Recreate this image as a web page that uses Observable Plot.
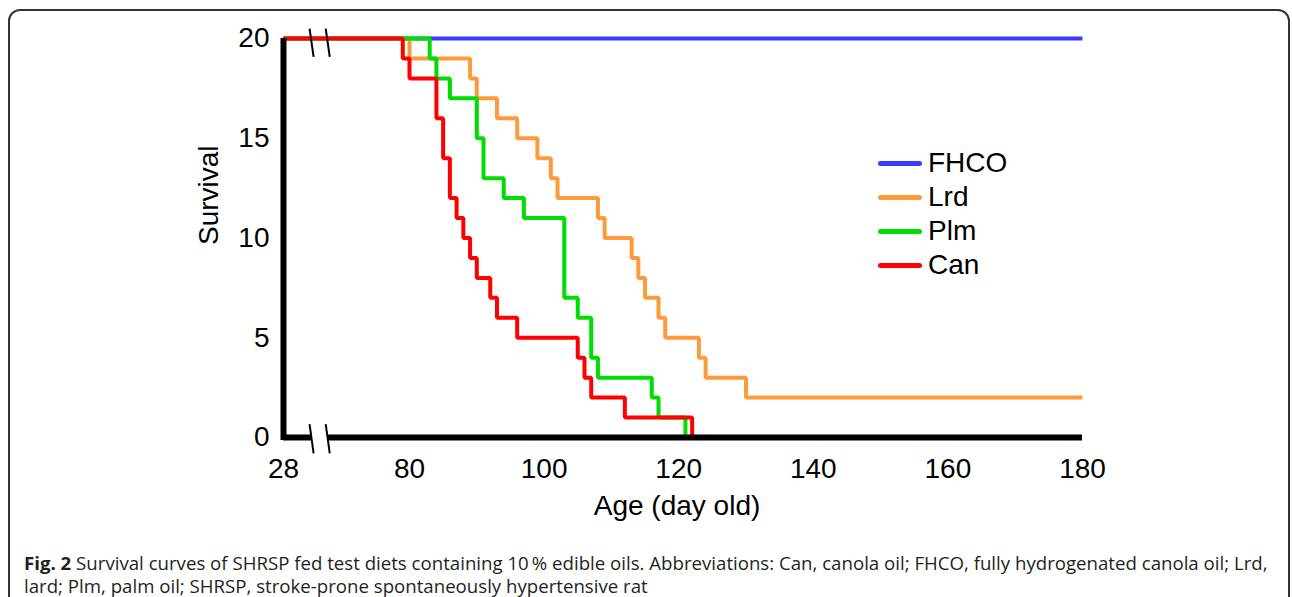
<!DOCTYPE html>
<html><head><meta charset="utf-8">
<script src="https://cdn.jsdelivr.net/npm/d3@7"></script>
<script src="https://cdn.jsdelivr.net/npm/@observablehq/plot@0.6"></script>
<style>
html,body{margin:0;padding:0;background:#fff;overflow:hidden;}
#wrap{position:relative;width:1292px;height:597px;overflow:hidden;}
#box{position:absolute;left:8px;top:9px;width:1282px;height:600px;border:2px solid #333;border-radius:12px;box-sizing:border-box;}
#chart{position:absolute;left:0;top:0;}
#legend{position:absolute;left:878px;top:146px;font-family:"Liberation Sans",Arial,sans-serif;font-size:28px;color:#000;}
.row{display:flex;align-items:center;height:34px;}
.sw{width:44px;height:5px;border-radius:3px;margin-right:6px;}
#caption{position:absolute;left:24px;top:551px;font-family:"Open Sans",sans-serif;font-size:16px;line-height:23px;color:#231f20;white-space:nowrap;}
#caption div{white-space:nowrap;}
</style></head>
<body>
<div id="wrap">
  <div id="box"></div>
  <div id="chart"></div>
  <div id="legend"></div>
  <div id="caption">
    <div id="cap1"><b>Fig. 2</b> Survival curves of SHRSP fed test diets containing 10&#8201;% edible oils. Abbreviations: Can, canola oil; FHCO, fully hydrogenated canola oil; Lrd,</div>
    <div id="cap2">lard; Plm, palm oil; SHRSP, stroke-prone spontaneously hypertensive rat</div>
  </div>
</div>
<script>
// ---- data ----
const seriesNames = ["FHCO", "Lrd", "Plm", "Can"];
const seriesColors = ["#3a3aff", "#ff9a3c", "#00dd00", "#ff0000"];

const fhcoDays = [28, 180];
const fhcoSurv = [20, 20];

const lrdDays = [28, 80, 89, 90, 93, 96, 99, 101, 102, 108, 109, 113, 114, 115, 117, 118, 123, 124, 130, 180];
const lrdSurv = [20, 19, 18, 17, 16, 15, 14, 13, 12, 11, 10, 9, 8, 7, 6, 5, 4, 3, 2, 2];

const plmDays = [28, 83, 84, 86, 90, 91, 94, 97, 103, 105, 107, 108, 116, 117, 121];
const plmSurv = [20, 19, 18, 17, 15, 13, 12, 11, 7, 6, 4, 3, 2, 1, 0];

const canDays = [28, 79, 80, 84, 85, 86, 87, 88, 89, 90, 92, 93, 96, 105, 106, 107, 112, 122];
const canSurv = [20, 19, 18, 16, 14, 12, 11, 10, 9, 8, 7, 6, 5, 4, 3, 2, 1, 0];

const xTicks = [28, 80, 100, 120, 140, 160, 180];
const yTicks = [0, 5, 10, 15, 20];

// ---- table ----
const seriesData = [[fhcoDays, fhcoSurv], [lrdDays, lrdSurv], [plmDays, plmSurv], [canDays, canSurv]];
const rows = [];
seriesData.forEach(([days, surv], i) => {
  days.forEach((d, j) => rows.push({series: seriesNames[i], day: d, surv: surv[j]}));
});

// ---- layout (broken x axis: days 28..64 compressed) ----
const X0 = 283, X80 = 409, X180 = 1082;
const ppd = (X180 - X80) / 100;
const tLeft = 80 - (X80 - X0) / ppd;   // linear-space value at the y axis
const xBreak = 64;
const compress = d => d >= xBreak ? d : tLeft + (d - 28) * (xBreak - tLeft) / (xBreak - 28);
const tickPos = xTicks.map(compress);
const brk1 = 65.45, brk2 = 67.85;
const axisSegs = [{a: 28, b: brk1}, {a: brk2, b: 180}];
const breakMarks = [
  {x: brk1, y: 20, up: 0.5, down: 0.92}, {x: brk2, y: 20, up: 0.5, down: 0.92},
  {x: brk1, y: 0, up: 0.67, down: 0.8}, {x: brk2, y: 0, up: 0.67, down: 0.8}
];

const chart = Plot.plot({
  width: 1292, height: 540,
  marginLeft: X0, marginRight: 1292 - X180, marginTop: 38, marginBottom: 103,
  style: {fontFamily: "Liberation Sans, Arial, sans-serif", color: "#000", background: "transparent"},
  x: {transform: compress, domain: [tLeft, 180]},
  y: {domain: [0, 20]},
  color: {domain: seriesNames, range: seriesColors},
  marks: [
    Plot.line(rows, {x: "day", y: "surv", z: "series", stroke: "series", curve: "step-after",
      strokeWidth: 4, strokeLinejoin: "miter", strokeLinecap: "butt"}),
    Plot.ruleX([28], {y1: -0.15, y2: 20, stroke: "#000", strokeWidth: 6}),
    Plot.ruleY(axisSegs, {x1: "a", x2: "b", y: 0, stroke: "#000", strokeWidth: 6}),
    Plot.link(breakMarks, {x1: d => d.x - 0.3, y1: d => d.y + d.up, x2: d => d.x + 0.3, y2: d => d.y - d.down,
      stroke: "#000", strokeWidth: 2}),
    Plot.axisX({ticks: tickPos, tickFormat: v => String(xTicks[tickPos.indexOf(v)]),
      tickSize: 0, tickPadding: 21, fontSize: 28, label: null}),
    Plot.axisY({ticks: yTicks, tickSize: 0, tickPadding: 14, fontSize: 28, label: null}),
    Plot.text(["Survival"], {frameAnchor: "left", rotate: -90, dx: -74, dy: 7, fontSize: 28}),
    Plot.text(["Age (day old)"], {frameAnchor: "bottom", dx: -6, dy: 77, fontSize: 28})
  ]
});
document.getElementById("chart").appendChild(chart);

// legend
const legend = document.getElementById("legend");
seriesNames.forEach((n, i) => {
  const r = document.createElement("div"); r.className = "row";
  const s = document.createElement("span"); s.className = "sw"; s.style.background = seriesColors[i];
  const t = document.createElement("span"); t.textContent = n;
  r.appendChild(s); r.appendChild(t); legend.appendChild(r);
});

// fit caption width
const cap1 = document.getElementById("cap1");
const cap = document.getElementById("caption");
const w = cap1.getBoundingClientRect().width;
if (w > 0) {
  const fs = 16 * 1244 / w;
  cap.style.fontSize = fs.toFixed(2) + "px";
}
</script>
</body></html>
